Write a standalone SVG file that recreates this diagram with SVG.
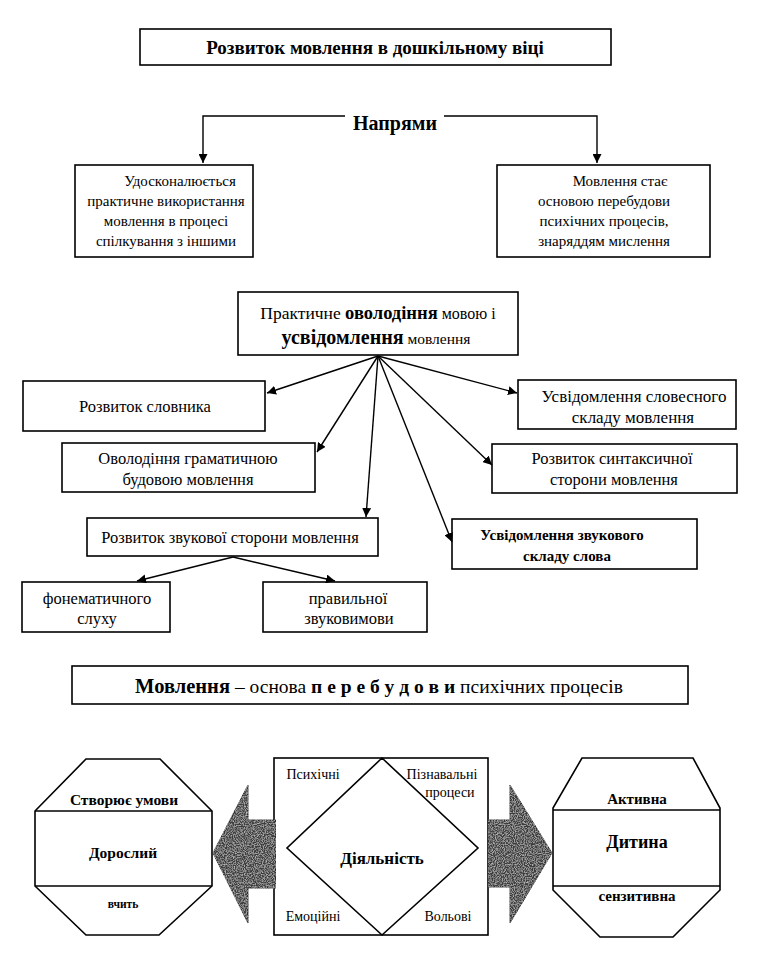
<svg xmlns="http://www.w3.org/2000/svg" width="761" height="968" viewBox="0 0 761 968">
<defs>
<marker id="ah" viewBox="0 0 10 10" refX="10" refY="5" markerWidth="9" markerHeight="9" markerUnits="userSpaceOnUse" orient="auto">
<path d="M0,0 L10,5 L0,10 z" fill="#000"/>
</marker>
<filter id="grain" x="0" y="0" width="100%" height="100%">
<feTurbulence type="fractalNoise" baseFrequency="0.9" numOctaves="2" seed="3" result="n"/>
<feColorMatrix in="n" type="matrix" values="0 0 0 0 0.75  0 0 0 0 0.75  0 0 0 0 0.75  0 0 0 1.4 -0.55" result="dots"/>
<feComposite in="dots" in2="SourceGraphic" operator="in" result="d2"/>
<feMerge><feMergeNode in="SourceGraphic"/><feMergeNode in="d2"/></feMerge>
</filter>
</defs>
<style>
.box{fill:#fff;stroke:#000;stroke-width:1.6}
.t{font-family:"Liberation Serif","Times New Roman",serif;font-size:15px;fill:#000;text-anchor:middle}
.m{font-size:16.5px}
.b{font-weight:bold}
.ln{fill:none;stroke:#000;stroke-width:1.4}
.arr{fill:#3c3c3c;stroke:#222;stroke-width:1}
</style>
<rect width="761" height="968" fill="#fff"/>

<g id="title">
<rect class="box" x="140" y="29" width="471" height="36"/>
<text class="t b" x="375" y="54" style="font-size:19px">Розвиток мовлення в дошкільному віці</text>
</g>

<g id="napryamy">
<text class="t b" x="395" y="130" style="font-size:20px">Напрями</text>
</g>

<g id="n-left">
<rect class="box" x="75" y="165" width="178" height="92"/>
<text class="t" x="180" y="186">Удосконалюється</text>
<text class="t" x="166" y="206">практичне використання</text>
<text class="t" x="166" y="226">мовлення в процесі</text>
<text class="t" x="166" y="246">спілкування з іншими</text>
</g>

<g id="n-right">
<rect class="box" x="497" y="165" width="213" height="92"/>
<text class="t" x="620" y="186">Мовлення стає</text>
<text class="t" x="604" y="206">основою перебудови</text>
<text class="t" x="604" y="226">психічних процесів,</text>
<text class="t" x="604" y="246">знаряддям мислення</text>
</g>

<g id="n-center">
<rect class="box" x="238" y="292" width="280" height="63"/>
<text class="t" x="378" y="319"><tspan style="font-size:17.5px">Практичне </tspan><tspan class="b" style="font-size:18.5px">оволодіння</tspan><tspan style="font-size:16px"> мовою і</tspan></text>
<text class="t" x="376" y="344"><tspan class="b" style="font-size:20px">усвідомлення</tspan><tspan style="font-size:15.5px"> мовлення</tspan></text>
</g>

<g id="n-slovnyk">
<rect class="box" x="23" y="381" width="242" height="50"/>
<text class="t m" x="145" y="412">Розвиток словника</text>
</g>

<g id="n-gramatyka">
<rect class="box" x="62" y="443" width="253" height="49"/>
<text class="t m" x="188" y="464">Оволодіння граматичною</text>
<text class="t m" x="188" y="485">будовою мовлення</text>
</g>

<g id="n-slovesnyi">
<rect class="box" x="518" y="380" width="218" height="49"/>
<text class="t m" x="634" y="402" style="font-size:17px">Усвідомлення словесного</text>
<text class="t m" x="633" y="423" style="font-size:17px">складу мовлення</text>
</g>

<g id="n-syntax">
<rect class="box" x="492" y="444" width="245" height="49"/>
<text class="t m" x="612" y="464">Розвиток синтаксичної</text>
<text class="t m" x="614" y="485">сторони мовлення</text>
</g>

<g id="n-zvukova">
<rect class="box" x="87" y="518" width="291" height="38"/>
<text class="t m" x="230" y="543">Розвиток звукової сторони мовлення</text>
</g>

<g id="n-zvukovyi-sklad">
<rect class="box" x="452" y="519" width="245" height="50"/>
<text class="t b" x="562" y="540">Усвідомлення звукового</text>
<text class="t b" x="567" y="561">складу слова</text>
</g>

<g id="n-fonem">
<rect class="box" x="22" y="582" width="148" height="50"/>
<text class="t m" x="97" y="604">фонематичного</text>
<text class="t m" x="97" y="624">слуху</text>
</g>

<g id="n-pravylnoi">
<rect class="box" x="263" y="582" width="164" height="50"/>
<text class="t m" x="348" y="604">правильної</text>
<text class="t m" x="349" y="624">звуковимови</text>
</g>

<g id="n-osnova">
<rect class="box" x="72" y="666" width="616" height="38"/>
<text class="t" x="379" y="693"><tspan class="b" style="font-size:20.5px">Мовлення</tspan><tspan style="font-size:19.5px"> – основа </tspan><tspan class="b" style="font-size:19.5px">п е р е б у д о в и</tspan><tspan style="font-size:19.5px"> психічних процесів</tspan></text>
</g>

<g id="n-doroslyi">
<polygon class="box" points="86,759 160,759 212,811 212,886 159,935 86,935 35,886 35,811"/>
<line class="ln" x1="35" y1="811" x2="212" y2="811"/>
<line class="ln" x1="35" y1="886" x2="212" y2="886"/>
<text class="t b" x="124" y="805" style="font-size:15.5px">Створює умови</text>
<text class="t b" x="123" y="858" style="font-size:15.5px">Дорослий</text>
<text class="t b" x="123" y="908" style="font-size:11.5px">вчить</text>
</g>

<g id="n-diyalnist">
<rect class="box" x="274" y="758" width="214" height="177"/>
<polygon class="box" points="382,758 478,848 382,935 287,848"/>
<text class="t" x="313" y="779" style="font-size:14px">Психічні</text>
<text class="t" x="442" y="779" style="font-size:14px">Пізнавальні</text>
<text class="t" x="450" y="797" style="font-size:14px">процеси</text>
<text class="t b" x="382" y="864" style="font-size:17px">Діяльність</text>
<text class="t" x="313" y="921" style="font-size:14px">Емоційні</text>
<text class="t" x="448" y="921" style="font-size:14px">Вольові</text>
</g>

<g id="n-dytyna">
<polygon class="box" points="582,758 693,758 720,808 720,890 673,937 600,937 553,890 553,808"/>
<line class="ln" x1="553" y1="810" x2="720" y2="810"/>
<line class="ln" x1="553" y1="886" x2="720" y2="886"/>
<text class="t b" x="637" y="804">Активна</text>
<text class="t b" x="637" y="848" style="font-size:18px">Дитина</text>
<text class="t b" x="637" y="901">сензитивна</text>
</g>

<g id="connectors">
<path class="ln" d="M345,116 H203 V163" marker-end="url(#ah)"/>
<path class="ln" d="M444,116 H597 V163" marker-end="url(#ah)"/>
<line class="ln" x1="378" y1="356" x2="267" y2="393" marker-end="url(#ah)"/>
<line class="ln" x1="378" y1="356" x2="317" y2="452" marker-end="url(#ah)"/>
<line class="ln" x1="378" y1="356" x2="366" y2="517" marker-end="url(#ah)"/>
<line class="ln" x1="378" y1="356" x2="452" y2="542" marker-end="url(#ah)"/>
<line class="ln" x1="378" y1="356" x2="492" y2="465" marker-end="url(#ah)"/>
<line class="ln" x1="378" y1="356" x2="517" y2="393" marker-end="url(#ah)"/>
<line class="ln" x1="233" y1="557" x2="137" y2="581" marker-end="url(#ah)"/>
<line class="ln" x1="233" y1="557" x2="335" y2="581" marker-end="url(#ah)"/>
<polygon class="arr" filter="url(#grain)" points="213,853 248,785 248,820 276,820 276,888 248,888 248,923"/>
<polygon class="arr" filter="url(#grain)" points="488,820 510,820 510,785 552,853 510,923 510,887 488,887"/>
</g>
</svg>
